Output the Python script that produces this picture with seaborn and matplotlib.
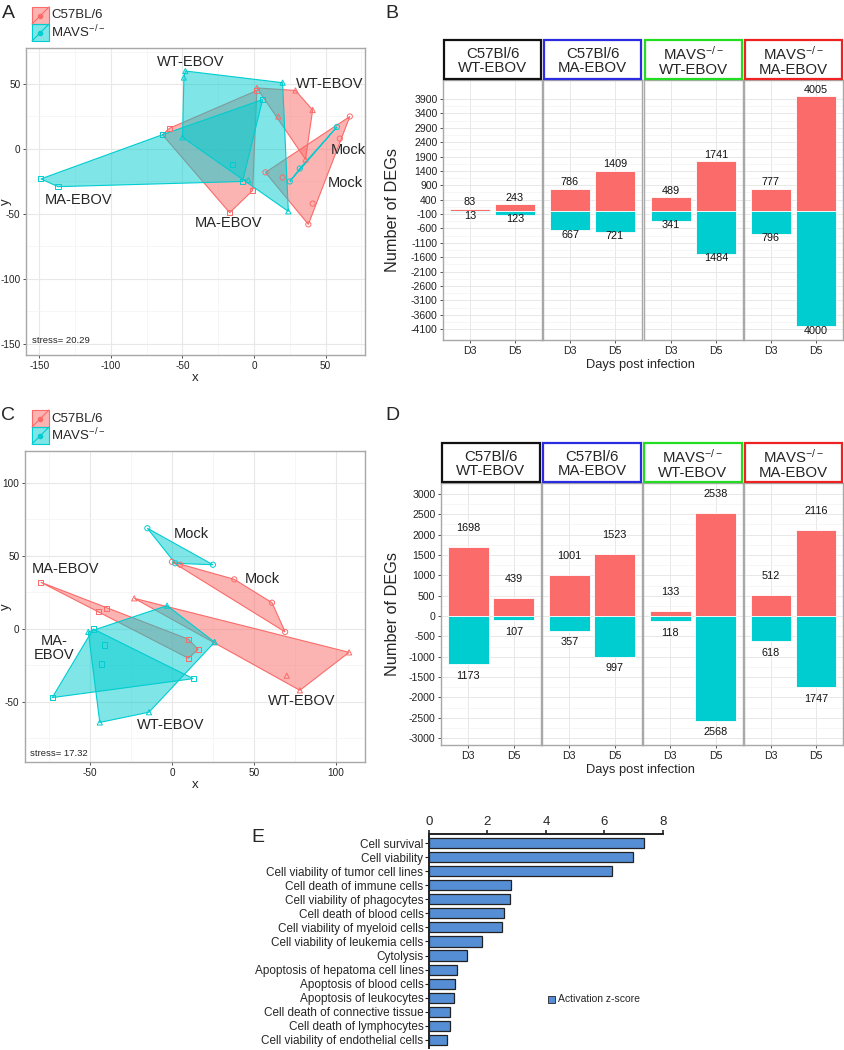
import numpy as np
import pandas as pd
import matplotlib
matplotlib.use("Agg")
import matplotlib.pyplot as plt
from matplotlib.patches import Rectangle
from matplotlib.colors import to_rgba
import seaborn as sns

sns.set_style("white")
plt.rcParams["font.family"] = ["Liberation Sans", "DejaVu Sans"]
plt.rcParams["mathtext.default"] = "regular"
plt.rcParams["axes.unicode_minus"] = False

W, H = 845, 1050
PINK = "#FA6B69"
CYAN = "#00CDD0"
E_BLUE = "#558ED5"

# ---------------- data ----------------
strains = ["C57BL/6", "MAVS$^{-/-}$"]
viruses = ["Mock", "WT-EBOV", "MA-EBOV"]

# panel A: NMDS coordinates
a_c57_mock = [(67, 25), (60, 8), (41, -42), (38, -58), (8, -18), (20, -22)]
a_c57_wt = [(2, 47), (29, 45), (41, 30), (36, -8), (17, 25)]
a_c57_ma = [(-64, 11), (-59, 16), (2, 45), (-1, -32), (-17, -49)]
a_mavs_mock = [(58, 17), (25, -25), (32, -15)]
a_mavs_wt = [(-48, 60), (20, 51), (24, -48), (-4, -24), (-50, 9), (-49, 55)]
a_mavs_ma = [(-149, -23), (-137, -29), (-8, -25), (6, 38), (-64, 11), (-15, -12)]
a_labels = ["WT-EBOV", "WT-EBOV", "Mock", "Mock", "MA-EBOV", "MA-EBOV"]
a_label_xy = [(-44, 67), (53, 50), (66, -1), (64, -26), (-123, -39), (-18, -57)]
a_stress = "stress= 20.29"

# panel C: NMDS coordinates
c_c57_mock = [(0, 46), (5, 44), (38, 34), (61, 18), (69, -2)]
c_c57_wt = [(-23, 21), (108, -16), (78, -42), (70, -32), (26, -9)]
c_c57_ma = [(-80, 32), (-45, 12), (-40, 14), (16, -14), (10, -20), (10, -7)]
c_mavs_mock = [(-15, 69), (2, 45), (25, 44)]
c_mavs_wt = [(-3, 16), (26, -9), (-14, -57), (-44, -64), (-51, -2)]
c_mavs_ma = [(-48, 0), (-73, -47), (13, -34), (-41, -11), (-43, -24)]
c_labels = ["Mock", "Mock", "MA-EBOV", "MA-\nEBOV", "WT-EBOV", "WT-EBOV"]
c_label_xy = [(12, 65), (55, 34), (-65, 41), (-72, -13), (-1, -66), (79, -49)]
c_stress = "stress= 17.32"

# panels B and D: number of DEGs
facets = ["C57Bl/6\nWT-EBOV", "C57Bl/6\nMA-EBOV",
          "MAVS$^{-/-}$\nWT-EBOV", "MAVS$^{-/-}$\nMA-EBOV"]
facet_colors = ["#111111", "#2B2BE0", "#22DD22", "#EE2222"]
days = ["D3", "D5"]
b_up = [[83, 243], [786, 1409], [489, 1741], [777, 4005]]
b_down = [[13, 123], [667, 721], [341, 1484], [796, 4000]]
d_up = [[1698, 439], [1001, 1523], [133, 2538], [512, 2116]]
d_down = [[1173, 107], [357, 997], [118, 2568], [618, 1747]]

# panel E: activation z-scores
e_terms = ["Cell survival", "Cell viability", "Cell viability of tumor cell lines",
           "Cell death of immune cells", "Cell viability of phagocytes",
           "Cell death of blood cells", "Cell viability of myeloid cells",
           "Cell viability of leukemia cells", "Cytolysis",
           "Apoptosis of hepatoma cell lines", "Apoptosis of blood cells",
           "Apoptosis of leukocytes", "Cell death of connective tissue",
           "Cell death of lymphocytes", "Cell viability of endothelial cells"]
e_scores = [7.35, 6.97, 6.26, 2.80, 2.77, 2.56, 2.50, 1.82, 1.30,
            0.96, 0.89, 0.86, 0.72, 0.71, 0.61]

COL = {strains[0]: PINK, strains[1]: CYAN}
MARK = {"Mock": "o", "WT-EBOV": "^", "MA-EBOV": "s"}

fig = plt.figure(figsize=(W / 100, H / 100), dpi=100)


def px_axes(l, t, r, b):
    return fig.add_axes([l / W, 1 - b / H, (r - l) / W, (b - t) / H])


ov = fig.add_axes([0, 0, 1, 1], zorder=10)
ov.set_xlim(0, W)
ov.set_ylim(H, 0)
ov.axis("off")


def hull(pts):
    pts = sorted(set(pts))
    def cross(o, a, b):
        return (a[0] - o[0]) * (b[1] - o[1]) - (a[1] - o[1]) * (b[0] - o[0])
    lower, upper = [], []
    for p in pts:
        while len(lower) >= 2 and cross(lower[-2], lower[-1], p) <= 0:
            lower.pop()
        lower.append(p)
    for p in reversed(pts):
        while len(upper) >= 2 and cross(upper[-2], upper[-1], p) <= 0:
            upper.pop()
        upper.append(p)
    return np.array(lower[:-1] + upper[:-1])


def draw_mds(ax, groups, labels, label_xy, stress, stress_xy, xticks, yticks):
    rows = []
    for (strain, virus), pts in groups:
        h = hull(pts)
        ax.fill(h[:, 0], h[:, 1], fc=to_rgba(COL[strain], 0.5),
                ec=COL[strain], lw=0.8, zorder=2)
        for x, y in pts:
            rows.append({"x": x, "y": y, "strain": strain, "virus": virus})
    df = pd.DataFrame(rows)
    sns.scatterplot(data=df, x="x", y="y", hue="strain", style="virus",
                    palette=COL, markers=MARK, s=14, legend=False, ax=ax, zorder=3)
    coll = ax.collections[-1]
    coll.set_edgecolors(coll.get_facecolors())
    coll.set_facecolors("none")
    coll.set_linewidth(0.7)
    for t, (x, y) in zip(labels, label_xy):
        ax.text(x, y, t, ha="center", va="center", fontsize=10.5, zorder=4,
                linespacing=1.0)
    ax.text(stress_xy[0], stress_xy[1], stress, ha="left", va="center", fontsize=6.8)
    ax.set_xticks(xticks)
    ax.set_yticks(yticks)
    ax.set_xticks([v + 25 for v in xticks[:-1]] + [xticks[0] - 25, xticks[-1] + 25], minor=True)
    ax.set_yticks([v + 25 for v in yticks[1:]] + [yticks[0] + 25, yticks[-1] - 25], minor=True)
    ax.grid(True, which="major", color="#E8E8E8", lw=0.8)
    ax.grid(True, which="minor", color="#F3F3F3", lw=0.5)
    ax.set_axisbelow(True)
    for s in ax.spines.values():
        s.set_color("#A8A8A8")
        s.set_linewidth(1.0)
    ax.tick_params(which="major", length=2.5, width=0.6, color="#333333",
                   labelsize=7.2, pad=1.5, labelcolor="#222222",
                   left=True, bottom=True)
    ax.tick_params(which="minor", length=0)
    ax.set_xlabel("x", fontsize=9.5, labelpad=1)
    ax.set_ylabel("")


def mds_legend(top):
    for i, s in enumerate(strains):
        y0 = top + i * 17
        ov.add_patch(Rectangle((32, y0), 17, 17, fc=to_rgba(COL[s], 0.5),
                               ec=COL[s], lw=0.8))
        ov.plot([32, 49], [y0 + 17, y0], color=COL[s], lw=0.8)
        ov.plot([40.5], [y0 + 8.5], "o", color=COL[s], ms=3)
        ov.text(51, y0 + 8.5, s, ha="left", va="center", fontsize=9.5)


# ---- panel A ----
ax_a = px_axes(26, 48, 365, 355)
groups_a = [((strains[0], "Mock"), a_c57_mock), ((strains[0], "WT-EBOV"), a_c57_wt),
            ((strains[0], "MA-EBOV"), a_c57_ma), ((strains[1], "Mock"), a_mavs_mock),
            ((strains[1], "WT-EBOV"), a_mavs_wt), ((strains[1], "MA-EBOV"), a_mavs_ma)]
draw_mds(ax_a, groups_a, a_labels, a_label_xy, a_stress, (-155, -147),
         [-150, -100, -50, 0, 50], [50, 0, -50, -100, -150])
ax_a.set_xlim(-159.4, 77.6)
ax_a.set_ylim(-158.5, 77.7)
mds_legend(7)
ov.text(8, 13, "A", ha="center", va="center", fontsize=14)
ov.text(6, (48 + 355) / 2, "y", rotation=90, ha="center", va="center", fontsize=9.5)

# ---- panel C ----
ax_c = px_axes(25, 451, 365, 762)
groups_c = [((strains[0], "Mock"), c_c57_mock), ((strains[0], "WT-EBOV"), c_c57_wt),
            ((strains[0], "MA-EBOV"), c_c57_ma), ((strains[1], "Mock"), c_mavs_mock),
            ((strains[1], "WT-EBOV"), c_mavs_wt), ((strains[1], "MA-EBOV"), c_mavs_ma)]
draw_mds(ax_c, groups_c, c_labels, c_label_xy, c_stress, (-86.6, -85),
         [-50, 0, 50, 100], [100, 50, 0, -50])
ax_c.set_xlim(-89.6, 117.7)
ax_c.set_ylim(-91.1, 121.9)
mds_legend(410)
ov.text(8, 416, "C", ha="center", va="center", fontsize=14)
ov.text(6, (451 + 762) / 2, "y", rotation=90, ha="center", va="center", fontsize=9.5)


# ---- panels B and D ----
def draw_facets(lefts, rights, top, bottom, strip_top, up, down, ylim, yticks,
                off_up, off_dn):
    for i in range(4):
        ax = px_axes(lefts[i], top, rights[i], bottom)
        df = pd.DataFrame({"day": days * 2,
                           "count": up[i] + [-v for v in down[i]],
                           "dir": ["up", "up", "down", "down"]})
        sns.barplot(data=df, x="day", y="count", hue="dir",
                    palette={"up": PINK, "down": CYAN}, dodge=False, width=0.9,
                    errorbar=None, legend=False, ax=ax, saturation=1,
                    edgecolor="white", linewidth=0.6, zorder=2)
        for j in range(2):
            ax.text(j, up[i][j] + off_up, str(up[i][j]), ha="center",
                    va="center", fontsize=7.8, color="#111111")
            ax.text(j, -down[i][j] + off_dn, str(down[i][j]), ha="center",
                    va="center", fontsize=7.8, color="#111111")
        ax.set_xlim(-0.6, 1.6)
        ax.set_ylim(*ylim)
        ax.set_yticks(yticks)
        step = yticks[1] - yticks[0]
        ax.set_yticks([v + step / 2 for v in yticks[:-1]], minor=True)
        ax.grid(True, which="major", color="#E8E8E8", lw=0.7)
        ax.grid(True, which="minor", axis="y", color="#F3F3F3", lw=0.5)
        ax.set_axisbelow(True)
        ax.set_xlabel("")
        ax.set_ylabel("")
        for s in ax.spines.values():
            s.set_color("#A8A8A8")
            s.set_linewidth(1.0)
        ax.tick_params(which="major", length=2.5, width=0.6, color="#333333",
                       labelsize=7.6, pad=1.5, labelcolor="#222222",
                       left=(i == 0), bottom=True, labelleft=(i == 0))
        ax.tick_params(which="minor", length=0)
        ov.add_patch(Rectangle((lefts[i] + 1, strip_top), rights[i] - lefts[i] - 2,
                               top - strip_top - 1, fill=False,
                               ec=facet_colors[i], lw=1.6))
        ov.text((lefts[i] + rights[i]) / 2, (strip_top + top) / 2 + 1, facets[i],
                ha="center", va="center", fontsize=10.8, linespacing=1.05)
    ov.text(393, (top + bottom) / 2, "Number of DEGs", rotation=90,
            ha="center", va="center", fontsize=11.7)
    ov.text(640, bottom + 25, "Days post infection", ha="center",
            va="center", fontsize=9.3)


draw_facets([443, 543, 644, 744], [542, 642, 743, 843], 80, 340, 40,
            b_up, b_down, (-4480, 4560), list(range(-4100, 4000, 500)), 220, -150)
ov.text(392, 13, "B", ha="center", va="center", fontsize=14)

draw_facets([441, 542, 643, 744], [541, 642, 743, 843], 483, 745, 443,
            d_up, d_down, (-3170, 3270), list(range(-3000, 3001, 500)), 470, -290)
ov.text(392, 416, "D", ha="center", va="center", fontsize=14)

# ---- panel E ----
ax_e = px_axes(429, 834, 663, 1048)
sns.barplot(x=e_scores, y=e_terms, orient="h", color=E_BLUE, saturation=1,
            edgecolor="#222222", linewidth=0.9, width=0.72, ax=ax_e)
ax_e.set_xlim(0, 8)
ax_e.set_ylim(14.57, -0.64)
ax_e.set_xticks([0, 2, 4, 6, 8])
ax_e.xaxis.tick_top()
for s in ["right", "bottom"]:
    ax_e.spines[s].set_visible(False)
for s in ["top", "left"]:
    ax_e.spines[s].set_color("#222222")
    ax_e.spines[s].set_linewidth(1.4)
ax_e.tick_params(axis="x", top=True, bottom=False, length=3, width=1.2,
                 labelsize=9.5, pad=1, color="#222222")
ax_e.tick_params(axis="y", left=True, length=3, width=0.8, labelsize=8.5,
                 pad=1, color="#222222")
ax_e.set_xlabel("")
ax_e.set_ylabel("")
ov.text(258, 837, "E", ha="center", va="center", fontsize=14)
ov.add_patch(Rectangle((548, 996), 7, 7, fc=E_BLUE, ec="#222222", lw=0.6))
ov.text(558, 999.5, "Activation z-score", ha="left", va="center", fontsize=7.5)

fig.savefig("out.png", dpi=100)
